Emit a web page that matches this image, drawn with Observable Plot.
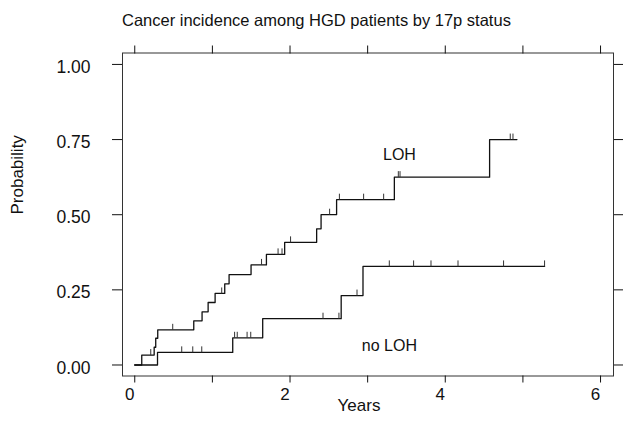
<!DOCTYPE html>
<html><head><meta charset="utf-8">
<script src="https://cdn.jsdelivr.net/npm/d3@7"></script>
<script src="https://cdn.jsdelivr.net/npm/@observablehq/plot@0.6"></script>
<style>
body{margin:0;background:#fff;font-family:"Liberation Sans",Arial,sans-serif;}
#title{height:40px;line-height:40px;padding-left:122px;font-size:16.5px;color:#111;white-space:nowrap;}
</style></head><body>
<div id="title">Cancer incidence among HGD patients by 17p status</div>
<div id="chart"></div>
<script>
// LOH group: event times (years) and cumulative incidence after each step
const lohTime = [0, 0.09, 0.25, 0.27, 0.296, 0.76, 0.867, 0.945, 1.035, 1.159, 1.215, 1.498, 1.696, 1.931, 2.343, 2.40, 2.60, 3.344, 4.571, 4.923];
const lohProb = [0, 0.033, 0.059, 0.089, 0.117, 0.147, 0.177, 0.208, 0.238, 0.270, 0.301, 0.333, 0.368, 0.408, 0.453, 0.50, 0.55, 0.625, 0.75, 0.75];
const lohCensor = [0.206, 0.489, 1.12, 1.633, 1.846, 1.897, 2.007, 2.51, 2.636, 2.948, 3.206, 3.395, 3.417, 4.837, 4.872];

// no LOH group
const nolohTime = [0, 0.293, 1.262, 1.648, 2.659, 2.94, 5.279];
const nolohProb = [0, 0.042, 0.0905, 0.154, 0.231, 0.328, 0.328];
const nolohCensor = [0.605, 0.747, 0.863, 1.286, 1.32, 1.447, 1.494, 2.425, 2.63, 2.863, 3.279, 3.592, 3.816, 4.164, 4.751, 5.279];

const yTicks = [0, 0.25, 0.5, 0.75, 1];
const xTicks = [0, 1, 2, 3, 4, 5, 6];
const xLabelled = [0, 2, 4, 6];

const groupNames = ["LOH", "no LOH"];
const groupLabelX = [3.41, 3.28];
const groupLabelY = [0.70, 0.065];

function stepAt(times, probs, t) {
  let p = probs[0];
  for (let i = 0; i < times.length; i++) if (times[i] <= t) p = probs[i];
  return p;
}
const curves = [
  ...lohTime.map((t, i) => ({g: "LOH", t, p: lohProb[i]})),
  ...nolohTime.map((t, i) => ({g: "no LOH", t, p: nolohProb[i]}))
];
const censors = [
  ...lohCensor.map(t => ({t, p: stepAt(lohTime, lohProb, t)})),
  ...nolohCensor.map(t => ({t, p: stepAt(nolohTime, nolohProb, t)}))
];
const censorSymbol = {draw(ctx) { ctx.moveTo(0, 0); ctx.lineTo(0, -6); }};

const chart = Plot.plot({
  width: 632, height: 383,
  marginLeft: 122, marginRight: 19, marginTop: 12.5, marginBottom: 47.5,
  x: {domain: [-0.158, 6.167]},
  y: {domain: [-0.0366, 1.038]},
  style: {fontFamily: "Liberation Sans, Arial, sans-serif", fontSize: "17px", color: "#111", background: "#fff"},
  marks: [
    Plot.frame({stroke: "#333"}),
    Plot.axisY({anchor: "left", ticks: yTicks, tickSize: 10, tickFormat: () => "", label: null}),
    Plot.axisY({anchor: "left", ticks: yTicks, tickSize: 0, tickPadding: 32, dy: 3, tickFormat: d3.format(".2f"), label: null, fontSize: 17.5}),
    Plot.axisY({anchor: "right", ticks: yTicks, tickSize: 9, tickFormat: () => "", label: null}),
    Plot.axisX({anchor: "bottom", ticks: xTicks, tickSize: 7, tickFormat: () => "", label: null}),
    Plot.axisX({anchor: "bottom", ticks: xTicks, tickSize: 0, tickPadding: 12, dx: -5, tickFormat: d => xLabelled.includes(d) ? String(d) : "", label: null, fontSize: 17}),
    Plot.axisX({anchor: "top", ticks: xTicks, tickSize: 8, tickFormat: () => "", label: null}),
    Plot.line(curves, {x: "t", y: "p", z: "g", curve: "step-after", stroke: "#111", strokeWidth: 1.3}),
    Plot.dot(censors, {x: "t", y: "p", symbol: censorSymbol, fill: "none", stroke: "#333", strokeWidth: 1}),
    Plot.text(groupNames, {x: (d, i) => groupLabelX[i], y: (d, i) => groupLabelY[i], text: d => d, fontSize: 16}),
    Plot.text(["Years"], {frameAnchor: "bottom", text: d => d, dy: 35, dx: -9, fontSize: 17}),
    Plot.text(["Probability"], {frameAnchor: "left", text: d => d, rotate: -90, dx: -105, fontSize: 17})
  ]
});
document.getElementById("chart").appendChild(chart);
</script>
</body></html>
